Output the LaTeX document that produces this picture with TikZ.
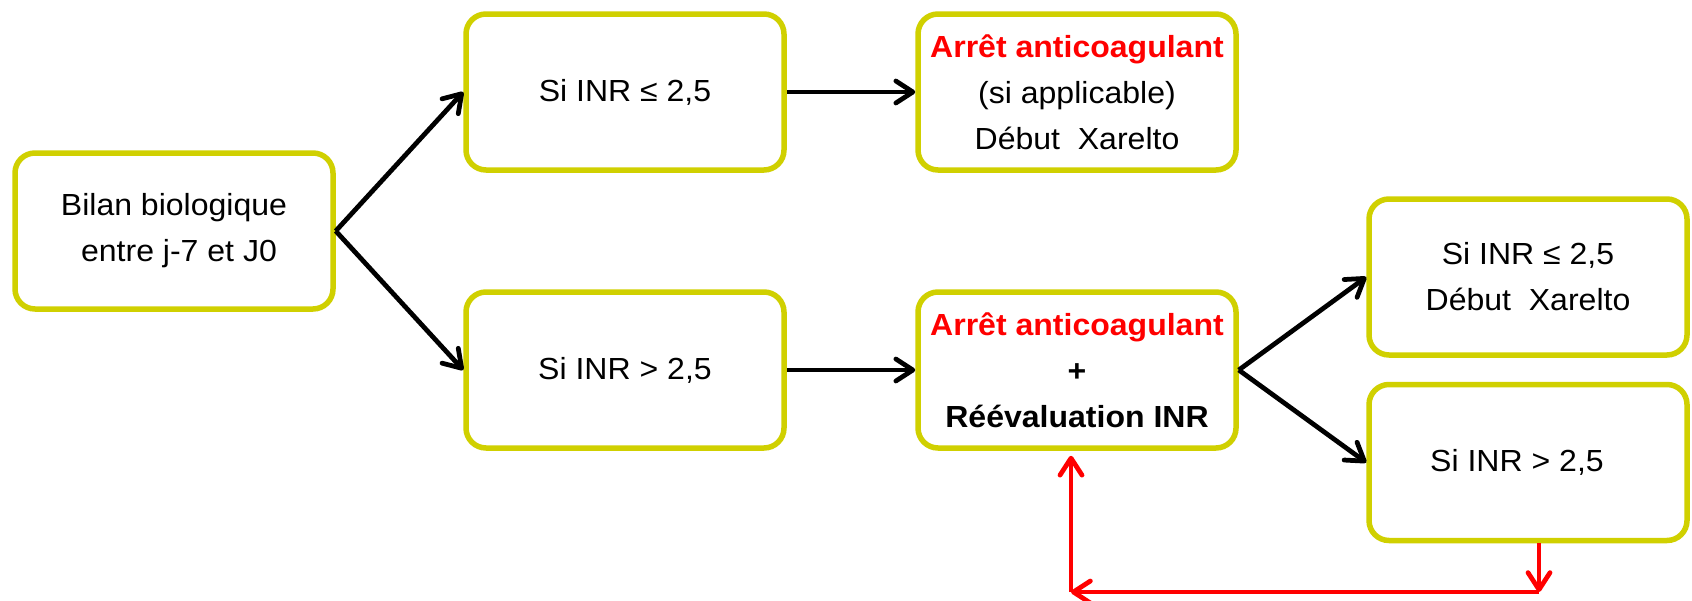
\documentclass[tikz,border=0pt]{standalone}
\usepackage{fontspec}
\setmainfont{Liberation Sans}[FakeStretch=1.05]
\usetikzlibrary{arrows.meta}
\definecolor{boxline}{RGB}{208,208,0}
\begin{document}
\begin{tikzpicture}[x=1pt,y=-1pt,
  box/.style={draw=boxline, line width=5.5pt, rounded corners=20pt,
    minimum width=318pt, minimum height=156pt, inner sep=0pt,
    align=center, font=\fontsize{30.5}{46}\selectfont},
  arr/.style={line width=4.75pt, -{Straight Barb[length=17pt,width=22pt,round]}},
  redarr/.style={arr, draw=red}]
\useasboundingbox[fill=white] (0,0) rectangle (1692,600);

\node[box] (b1) at (174,231) {Bilan biologique\\\hspace*{10pt}entre j-7 et J0};
\node[box] (b2) at (625,92) {Si INR ≤ 2,5};
\node[box] (b3) at (1077,92) {\textbf{\textcolor{red}{Arrêt anticoagulant}}\\(si applicable)\\Début\ \ Xarelto};
\node[box] (b4) at (625,370) {Si INR > 2,5};
\node[box] (b5) at (1077,370) {\textbf{\textcolor{red}{Arrêt anticoagulant}}\\\textbf{+}\\\textbf{Réévaluation INR}};
\node[box] (b6) at (1528,277) {Si INR ≤ 2,5\\Début\ \ Xarelto};
\node[box] (b7) at (1528,462.5) {Si INR > 2,5\kern22pt};

\draw[arr] (b1.east) -- (b2.west);
\draw[arr] (b1.east) -- (b4.west);
\draw[arr] (b2.east) -- (b3.west);
\draw[arr] (b4.east) -- (b5.west);
\draw[arr] (b5.east) -- (b6.west);
\draw[arr] (b5.east) -- (b7.west);

\coordinate (r1) at (1539,592);
\coordinate (r2) at (1071,592);
\draw[redarr] (r1 |- b7.south) -- (r1);
\draw[redarr] (r1) -- (r2);
\draw[redarr, shorten >=5pt] (r2) -- (r2 |- b5.south);
\end{tikzpicture}
\end{document}
